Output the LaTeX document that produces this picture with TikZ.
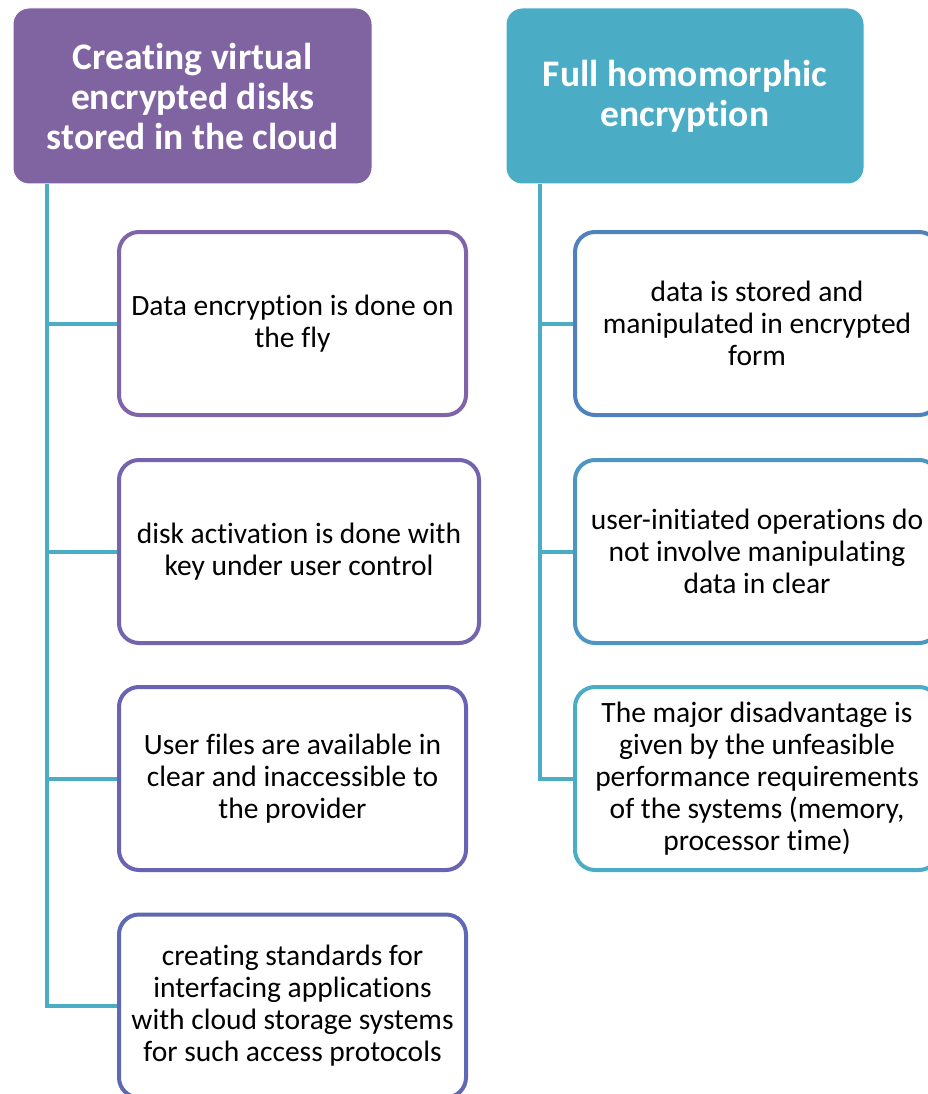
\documentclass[tikz,border=0pt]{standalone}
\usepackage{fontspec}
\setmainfont[Ligatures=NoCommon]{Carlito}
\definecolor{hpurple}{RGB}{128,100,162}
\definecolor{hteal}{RGB}{75,172,198}
\definecolor{linkc}{RGB}{75,172,198}
\definecolor{lA}{RGB}{128,100,168}
\definecolor{lB}{RGB}{116,100,174}
\definecolor{lC}{RGB}{104,99,178}
\definecolor{lD}{RGB}{94,104,181}
\definecolor{rA}{RGB}{79,129,189}
\definecolor{rB}{RGB}{78,150,194}
\definecolor{rC}{RGB}{75,172,198}
\tikzset{
  head/.style={rounded corners=16pt, draw=white, line width=1pt, text=white,
    align=center, inner sep=0pt, font=\bfseries\fontsize{37.5}{40}\selectfont},
  item/.style={rounded corners=20pt, fill=white, line width=4pt, align=center,
    inner sep=0pt, minimum height=183pt, font=\fontsize{29.5}{32}\selectfont},
  link/.style={draw=linkc, line width=4pt}
}
\begin{document}
\begin{tikzpicture}[x=1pt,y=-1pt]
\useasboundingbox (0,0) rectangle (928,1094);
\clip (0,0) rectangle (928,1094);
\fill[white] (0,0) rectangle (928,1094);

% branch headers
\node[head, fill=hpurple, minimum width=359pt, minimum height=176pt] (h1) at (192.5,96)
  {Creating virtual\\encrypted disks\\stored in the cloud};
\node[head, fill=hteal, minimum width=358pt, minimum height=176pt] (h2) at (685,96)
  {Full homomorphic\\encryption};

% trunk start points below the headers
\coordinate (tL) at (47,184);
\coordinate (tR) at (540,184);

% left branch items
\node[item, draw=lA, minimum width=347pt] (c1) at (292.5,323.5)
  {Data encryption is done on\\the fly};
\node[item, draw=lB, minimum width=360pt] (c2) at (299,551.5)
  {disk activation is done with\\key under user control};
\node[item, draw=lC, minimum width=347pt] (c3) at (292.5,778.5)
  {User files are available in\\clear and inaccessible to\\the provider};
\node[item, draw=lD, minimum width=347pt] (c4) at (292.5,1006)
  {creating standards for\\interfacing applications\\with cloud storage systems\\for such access protocols};

% right branch items
\node[item, draw=rA, minimum width=364pt] (r1) at (757,323.5)
  {data is stored and\\manipulated in encrypted\\form};
\node[item, draw=rB, minimum width=364pt] (r2) at (757,551.5)
  {user-initiated operations do\\not involve manipulating\\data in clear};
\node[item, draw=rC, minimum width=364pt] (r3) at (757,778.5)
  {The major disadvantage is\\given by the unfeasible\\performance requirements\\of the systems (memory,\\processor time)};

% connectors from each trunk to its items
\draw[link] (tL) |- (c1.west);
\draw[link] (tL) |- (c2.west);
\draw[link] (tL) |- (c3.west);
\draw[link] (tL) |- (c4.west);
\draw[link] (tR) |- (r1.west);
\draw[link] (tR) |- (r2.west);
\draw[link] (tR) |- (r3.west);
\end{tikzpicture}
\end{document}
